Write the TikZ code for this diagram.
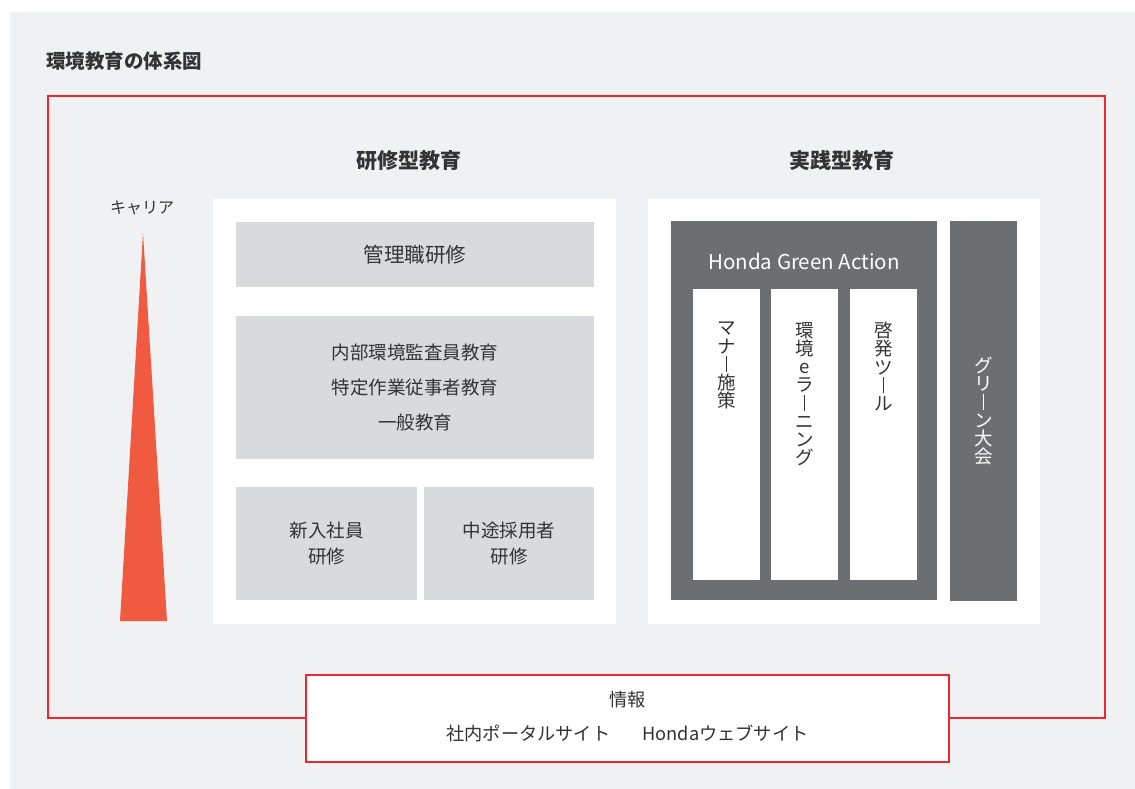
\documentclass[tikz,border=0pt]{standalone}
\usepackage{fontspec}
\setmainfont{Noto Sans CJK JP}
\definecolor{bgc}{RGB}{240,241,243}
\definecolor{boxc}{RGB}{217,218,220}
\definecolor{darkc}{RGB}{109,110,113}
\definecolor{txtc}{RGB}{51,51,51}
\definecolor{redc}{RGB}{240,40,45}
\definecolor{triac}{RGB}{240,90,64}
\newcommand{\vbar}{\rule[-0.05em]{1.1pt}{0.88em}}
\tikzset{
  panel/.style={fill=white, draw=none, inner sep=0pt},
  graybox/.style={fill=boxc, draw=none, inner sep=0pt, text=txtc, align=center},
  darkbox/.style={fill=darkc, draw=none, inner sep=0pt},
  colbox/.style={fill=white, draw=none, inner sep=0pt, minimum width=67pt, minimum height=291pt},
  vtxt/.style={inner sep=0pt, align=center, font=\fontsize{18.5}{18.2}\selectfont},
  head/.style={inner sep=0pt, text=txtc, font=\fontsize{21}{24}\selectfont\bfseries}
}
\begin{document}
\begin{tikzpicture}[x=1pt,y=-1pt]
\useasboundingbox (0,0) rectangle (1135,789);
\fill[bgc] (10,12) rectangle (1135,789);
% red frame
\draw[redc, line width=1.3pt] (48,96) rectangle (1105,718);
% title
\node[anchor=west, inner sep=0pt, text=txtc, font=\fontsize{19.5}{22}\selectfont\bfseries] (title) at (46,61) {環境教育の体系図};
% headings
\node[head] (h1) at (408.5,161) {研修型教育};
\node[head] (h2) at (842,161) {実践型教育};
% career
\node[inner sep=0pt, text=txtc, font=\fontsize{16}{18}\selectfont] (career) at (142,208) {キャリア};
\coordinate (apex) at (143,233);
\coordinate (bl) at (120,621);
\coordinate (br) at (167,621);
\fill[triac] (apex) -- (br) -- (bl) -- cycle;
% left panel
\node[panel, minimum width=403pt, minimum height=425pt] (lp) at (414.5,411.5) {};
\node[graybox, minimum width=358pt, minimum height=65pt, font=\fontsize{20.5}{24}\selectfont] (mgr) at (415,254.5) {管理職研修};
\node[graybox, minimum width=358pt, minimum height=143pt, font=\fontsize{18.5}{35}\selectfont] (mid) at (415,387.5) {内部環境監査員教育\\特定作業従事者教育\\一般教育};
\node[graybox, minimum width=181pt, minimum height=113pt, font=\fontsize{18.5}{26}\selectfont] (newc) at (326.5,543.5) {新入社員\\研修};
\node[graybox, minimum width=170pt, minimum height=113pt, font=\fontsize{18.5}{26}\selectfont] (midc) at (509,543.5) {中途採用者\\研修};
% right panel
\node[panel, minimum width=392pt, minimum height=425pt] (rp) at (844,411.5) {};
\node[darkbox, minimum width=266pt, minimum height=379pt] (hga) at (804,410.5) {};
\node[inner sep=0pt, text=white, font=\fontsize{20.5}{24}\selectfont] (hgat) at (804,261) {Honda Green Action};
\node[colbox] (c1) at (726.5,434.5) {};
\node[colbox] (c2) at (804.5,434.5) {};
\node[colbox] (c3) at (883.5,434.5) {};
\node[vtxt, anchor=north, text=txtc] (t1) at (726.5,322) {マ\\ナ\\\vbar\\施\\策};
\node[vtxt, anchor=north, text=txtc] (t2) at (804.5,322) {環\\境\\e\\ラ\\\vbar\\ニ\\ン\\グ};
\node[vtxt, anchor=north, text=txtc] (t3) at (883.5,322) {啓\\発\\ツ\\\vbar\\ル};
\node[darkbox, minimum width=67pt, minimum height=380pt] (green) at (983.5,410.5) {};
\node[vtxt, text=white] (gt) at (983.5,411) {グ\\リ\\\vbar\\ン\\大\\会};
% info box
\node[fill=white, draw=redc, line width=1.3pt, inner sep=0pt, minimum width=643pt, minimum height=87pt] (info) at (627.5,718.5) {};
\node[inner sep=0pt, text=txtc, font=\fontsize{18.2}{20}\selectfont] (info1) at (627.5,700) {情報};
\node[inner sep=0pt, text=txtc, font=\fontsize{18.2}{20}\selectfont] (info2) at (627.5,733) {社内ポータルサイト\hspace{32pt}Hondaウェブサイト};
\end{tikzpicture}
\end{document}
